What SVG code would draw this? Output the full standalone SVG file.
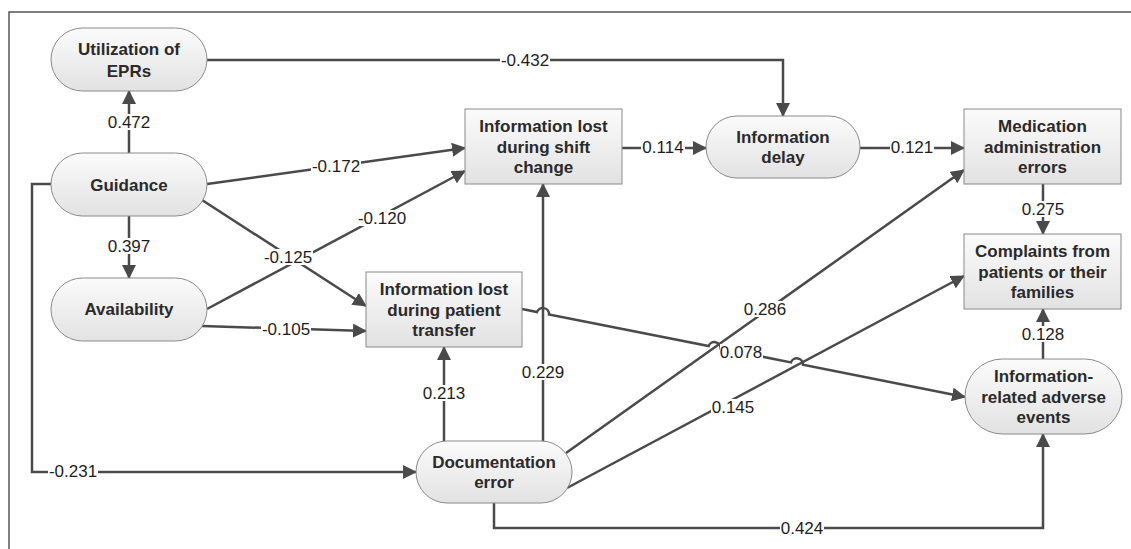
<svg xmlns="http://www.w3.org/2000/svg" width="1131" height="549" viewBox="0 0 1131 549">
<style>
.frame{fill:none;stroke:#555;stroke-width:1.5}
.c{fill:none;stroke:#4a4a4a;stroke-width:2.5}
.ca{fill:none;stroke:#4a4a4a;stroke-width:2.5;marker-end:url(#ah)}
.lb{fill:#fff;stroke:none}
.lt{font-family:"Liberation Sans",Arial,sans-serif;font-size:17px;fill:#1e1e1e;text-anchor:middle}
.nd{fill:url(#g);stroke:#8a8a8a;stroke-width:1}
.nt{font-family:"Liberation Sans",Arial,sans-serif;font-size:17px;font-weight:bold;fill:#2a2a2a;text-anchor:middle}
</style>
<defs>
<linearGradient id="g" x1="0" y1="0" x2="0" y2="1">
<stop offset="0" stop-color="#fbfbfb"/>
<stop offset="1" stop-color="#e2e2e2"/>
</linearGradient>
<marker id="ah" markerWidth="14" markerHeight="14" refX="13" refY="7" orient="auto" markerUnits="userSpaceOnUse">
<path d="M0,0 L14,7 L0,14 z" fill="#4a4a4a"/>
</marker>
</defs>
<rect width="1131" height="549" fill="#fff"/>
<path class="frame" d="M9,549 L9,12 L1131,12"/>
<g id="connectors">
<path class="ca" d="M129,153 L129,91"/>
<path class="ca" d="M129,216 L129,278"/>
<path class="ca" d="M207,60 L783,60 L783,116"/>
<path class="ca" d="M207,184 L465,148"/>
<path class="ca" d="M207,309 L465,171"/>
<path class="ca" d="M202,200 L366,306"/>
<path class="ca" d="M202,326 L366,331"/>
<path class="ca" d="M51,184 L32,184 L32,472 L416,472"/>
<path class="ca" d="M444,441 L444,347"/>
<path class="ca" d="M543,441 L543,184"/>
<path class="ca" d="M522,309 L537,312 A6.2,6.2 0 0 1 549,314.4 L708.6,346.1 A6.2,6.2 0 0 1 720.6,348.4 L791,362.4 A6.2,6.2 0 0 1 803,364.8 L965,397"/>
<path class="ca" d="M622,148 L706,148"/>
<path class="ca" d="M860,148 L964,148"/>
<path class="ca" d="M566,453 L964,170"/>
<path class="ca" d="M567,488 L964,276"/>
<path class="ca" d="M494,503 L494,528 L1043,528 L1043,434"/>
<path class="ca" d="M1043,184 L1043,234"/>
<path class="ca" d="M1043,359 L1043,309"/>
<g id="labels">
<rect class="lb" x="107" y="114" width="44" height="16"/><text class="lt" x="129" y="128">0.472</text>
<rect class="lb" x="107" y="238" width="44" height="16"/><text class="lt" x="129" y="252">0.397</text>
<rect class="lb" x="500" y="52" width="50" height="16"/><text class="lt" x="525" y="66">-0.432</text>
<rect class="lb" x="311" y="158" width="50" height="16"/><text class="lt" x="336" y="172">-0.172</text>
<rect class="lb" x="357" y="210" width="50" height="16"/><text class="lt" x="382" y="224">-0.120</text>
<rect class="lb" x="263" y="249" width="50" height="16"/><text class="lt" x="288" y="263">-0.125</text>
<rect class="lb" x="261" y="321" width="50" height="16"/><text class="lt" x="286" y="335">-0.105</text>
<rect class="lb" x="48" y="463" width="50" height="16"/><text class="lt" x="73" y="477">-0.231</text>
<rect class="lb" x="422" y="385" width="44" height="16"/><text class="lt" x="444" y="399">0.213</text>
<rect class="lb" x="521" y="364" width="44" height="16"/><text class="lt" x="543" y="378">0.229</text>
<rect class="lb" x="720" y="344" width="43" height="16"/><text class="lt" x="741" y="358">0.078</text>
<rect class="lb" x="743" y="301" width="44" height="16"/><text class="lt" x="765" y="315">0.286</text>
<rect class="lb" x="711" y="399" width="44" height="16"/><text class="lt" x="733" y="413">0.145</text>
<rect class="lb" x="780" y="520" width="44" height="16"/><text class="lt" x="802" y="534">0.424</text>
<rect class="lb" x="641" y="139" width="44" height="16"/><text class="lt" x="663" y="153">0.114</text>
<rect class="lb" x="890" y="139" width="44" height="16"/><text class="lt" x="912" y="153">0.121</text>
<rect class="lb" x="1021" y="201" width="44" height="16"/><text class="lt" x="1043" y="215">0.275</text>
<rect class="lb" x="1021" y="326" width="44" height="16"/><text class="lt" x="1043" y="340">0.128</text>
</g>
</g>
<g id="utilization">
<rect class="nd" x="51" y="28" width="156" height="63" rx="31.5"/>
<text class="nt" x="129" y="54.5">Utilization of</text>
<text class="nt" x="129" y="77">EPRs</text>
</g>
<g id="guidance">
<rect class="nd" x="51" y="153" width="156" height="63" rx="31.5"/>
<text class="nt" x="129" y="190.5">Guidance</text>
</g>
<g id="availability">
<rect class="nd" x="51" y="278" width="156" height="63" rx="31.5"/>
<text class="nt" x="129" y="315">Availability</text>
</g>
<g id="shift">
<rect class="nd" x="465" y="109" width="157" height="75"/>
<text class="nt" x="543.5" y="132">Information lost</text>
<text class="nt" x="543.5" y="152.5">during shift</text>
<text class="nt" x="543.5" y="173">change</text>
</g>
<g id="delay">
<rect class="nd" x="706" y="116" width="154" height="62" rx="31"/>
<text class="nt" x="783" y="142.5">Information</text>
<text class="nt" x="783" y="163">delay</text>
</g>
<g id="medication">
<rect class="nd" x="964" y="109" width="157" height="75"/>
<text class="nt" x="1042.5" y="132">Medication</text>
<text class="nt" x="1042.5" y="152.5">administration</text>
<text class="nt" x="1042.5" y="173">errors</text>
</g>
<g id="complaints">
<rect class="nd" x="964" y="234" width="157" height="75"/>
<text class="nt" x="1042.5" y="257">Complaints from</text>
<text class="nt" x="1042.5" y="277.5">patients or their</text>
<text class="nt" x="1042.5" y="298">families</text>
</g>
<g id="adverse">
<rect class="nd" x="965" y="359" width="157" height="75" rx="37.5"/>
<text class="nt" x="1043.5" y="382">Information-</text>
<text class="nt" x="1043.5" y="402.5">related adverse</text>
<text class="nt" x="1043.5" y="423">events</text>
</g>
<g id="transfer">
<rect class="nd" x="366" y="272" width="156" height="75"/>
<text class="nt" x="444" y="295">Information lost</text>
<text class="nt" x="444" y="315.5">during patient</text>
<text class="nt" x="444" y="336">transfer</text>
</g>
<g id="documentation">
<rect class="nd" x="416" y="441" width="156" height="62" rx="31"/>
<text class="nt" x="494" y="467.5">Documentation</text>
<text class="nt" x="494" y="488">error</text>
</g>
</svg>
